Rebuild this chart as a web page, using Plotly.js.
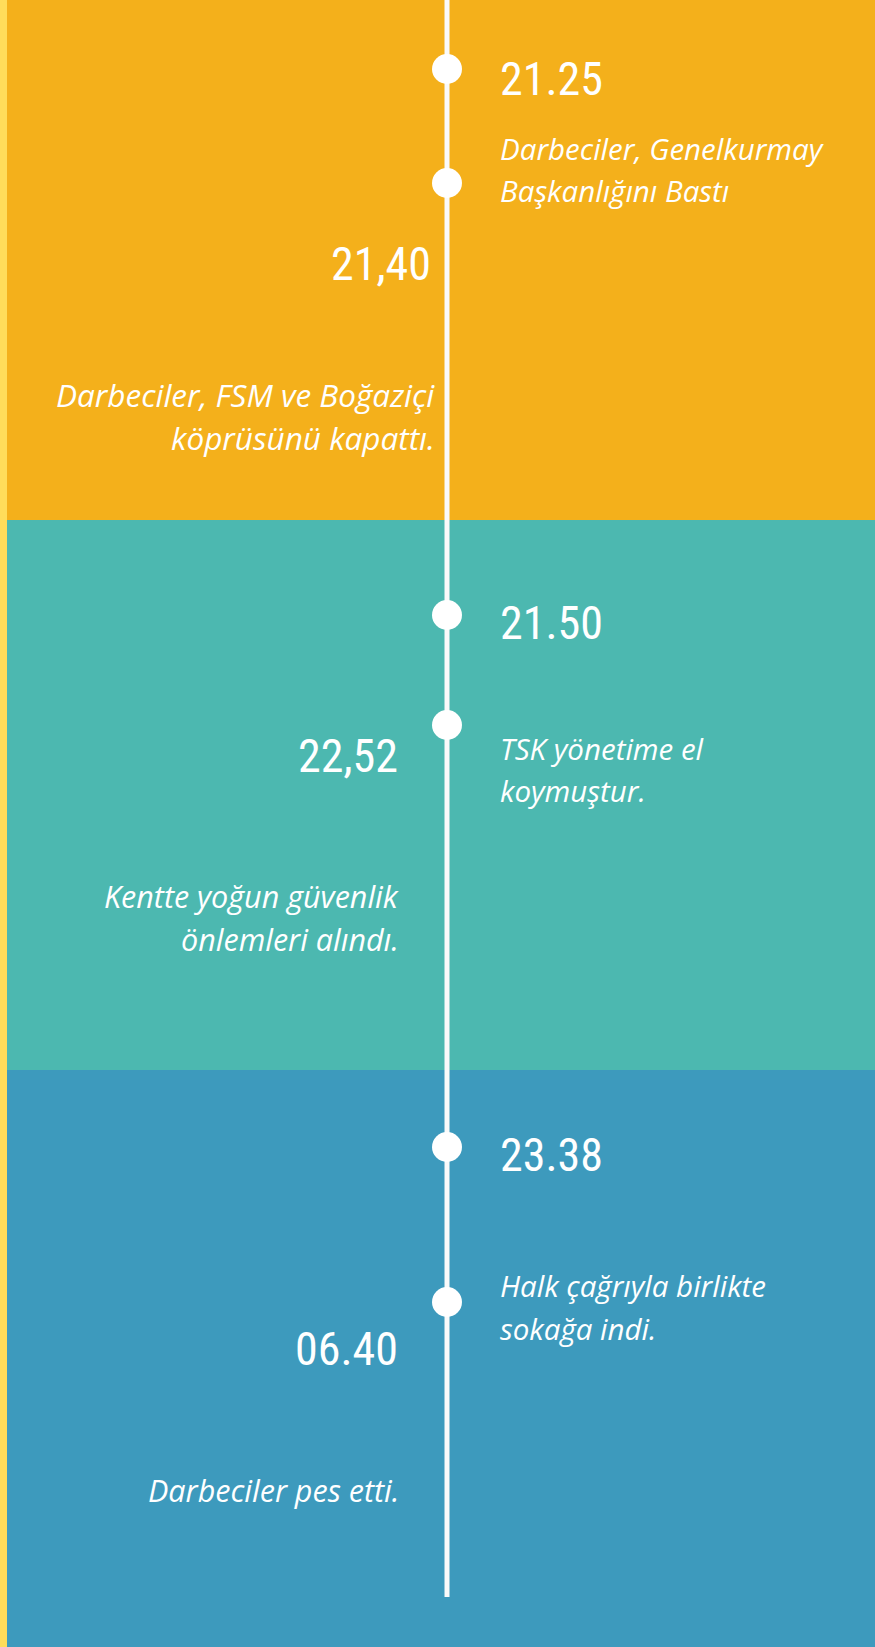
<!DOCTYPE html>
<html>
<head>
<meta charset="utf-8">
<script src="https://cdn.plot.ly/plotly-3.0.1.min.js"></script>
<style>html,body{margin:0;padding:0;background:#3D9ABD;overflow:hidden}#chart{width:875px;height:1647px}</style>
</head>
<body>
<div id="chart"></div>
<script>
// ---- data ----
const times = ['21.25', '21,40', '21.50', '22,52', '23.38', '06.40'];
const sides = ['right', 'left', 'right', 'left', 'right', 'left'];
const dotPos = [69, 183, 615, 725, 1147, 1302];
const timePos = [79, 264, 623, 756, 1155, 1349];
const descriptions = [
  ['Darbeciler, Genelkurmay', 'Başkanlığını Bastı'],
  ['Darbeciler, FSM ve Boğaziçi', 'köprüsünü kapattı.'],
  ['TSK yönetime el', 'koymuştur.'],
  ['Kentte yoğun güvenlik', 'önlemleri alındı.'],
  ['Halk çağrıyla birlikte', 'sokağa indi.'],
  ['Darbeciler pes etti.']
];
const descPos = [
  [148, 190],
  [394, 437],
  [748, 790],
  [896, 939],
  [1285, 1328],
  [1490]
];
const sectionBounds = [0, 520, 1070, 1647];
const sectionColors = ['#F4B01B', '#4CB8B0', '#3D9ABD'];

// ---- layout constants ----
const W = 875, H = 1647;
const axisX = 447;
const lineEnd = 1597;
const rightX = 498;
const timeEdge = [null, 433, null, 400, null, 400];
const descEdge = [null, 437, null, 401, null, 401];
const descSize = [29.5, 31.5, 29.5, 30.5, 29.5, 30.5];
const timeFont = {family: '"Roboto Condensed", "Oswald", sans-serif', size: 46, color: '#FFFFFF', weight: 400};

const shapes = [];
sectionColors.forEach((c, i) => {
  shapes.push({type: 'rect', xref: 'x', yref: 'y', x0: 0, x1: W, y0: sectionBounds[i], y1: sectionBounds[i + 1],
    fillcolor: c, line: {width: 0}, layer: 'below'});
});
shapes.push({type: 'rect', xref: 'x', yref: 'y', x0: 0, x1: 7, y0: 0, y1: H, fillcolor: '#FFDC5A', line: {width: 0}, layer: 'below'});
shapes.push({type: 'line', xref: 'x', yref: 'y', x0: axisX, x1: axisX, y0: 0, y1: lineEnd, line: {color: '#FAFAFA', width: 5}, layer: 'below'});

const annotations = [];
times.forEach((t, i) => {
  const right = sides[i] === 'right';
  annotations.push({x: right ? rightX : timeEdge[i], y: timePos[i], xref: 'x', yref: 'y', text: t, showarrow: false,
    xanchor: right ? 'left' : 'right', yanchor: 'middle', font: timeFont});
  const df = {family: '"Open Sans", "Noto Sans", sans-serif', size: descSize[i], color: '#FFFFFF', style: 'italic', weight: 400};
  descriptions[i].forEach((line, j) => {
    annotations.push({x: right ? rightX : descEdge[i], y: descPos[i][j], xref: 'x', yref: 'y', text: line, showarrow: false,
      xanchor: right ? 'left' : 'right', yanchor: 'middle', font: df});
  });
});

const traces = [{
  type: 'scatter', mode: 'markers',
  x: dotPos.map(() => axisX), y: dotPos,
  marker: {size: 30, color: '#FFFFFF', line: {width: 0}},
  hoverinfo: 'skip', showlegend: false
}];

const layout = {
  width: W, height: H,
  margin: {l: 0, r: 0, t: 0, b: 0, pad: 0},
  paper_bgcolor: '#3D9ABD', plot_bgcolor: 'rgba(0,0,0,0)',
  xaxis: {range: [0, W], visible: false, fixedrange: true},
  yaxis: {range: [H, 0], visible: false, fixedrange: true},
  shapes: shapes, annotations: annotations, showlegend: false
};

Plotly.newPlot('chart', traces, layout, {displayModeBar: false, staticPlot: true});
</script>
</body>
</html>
